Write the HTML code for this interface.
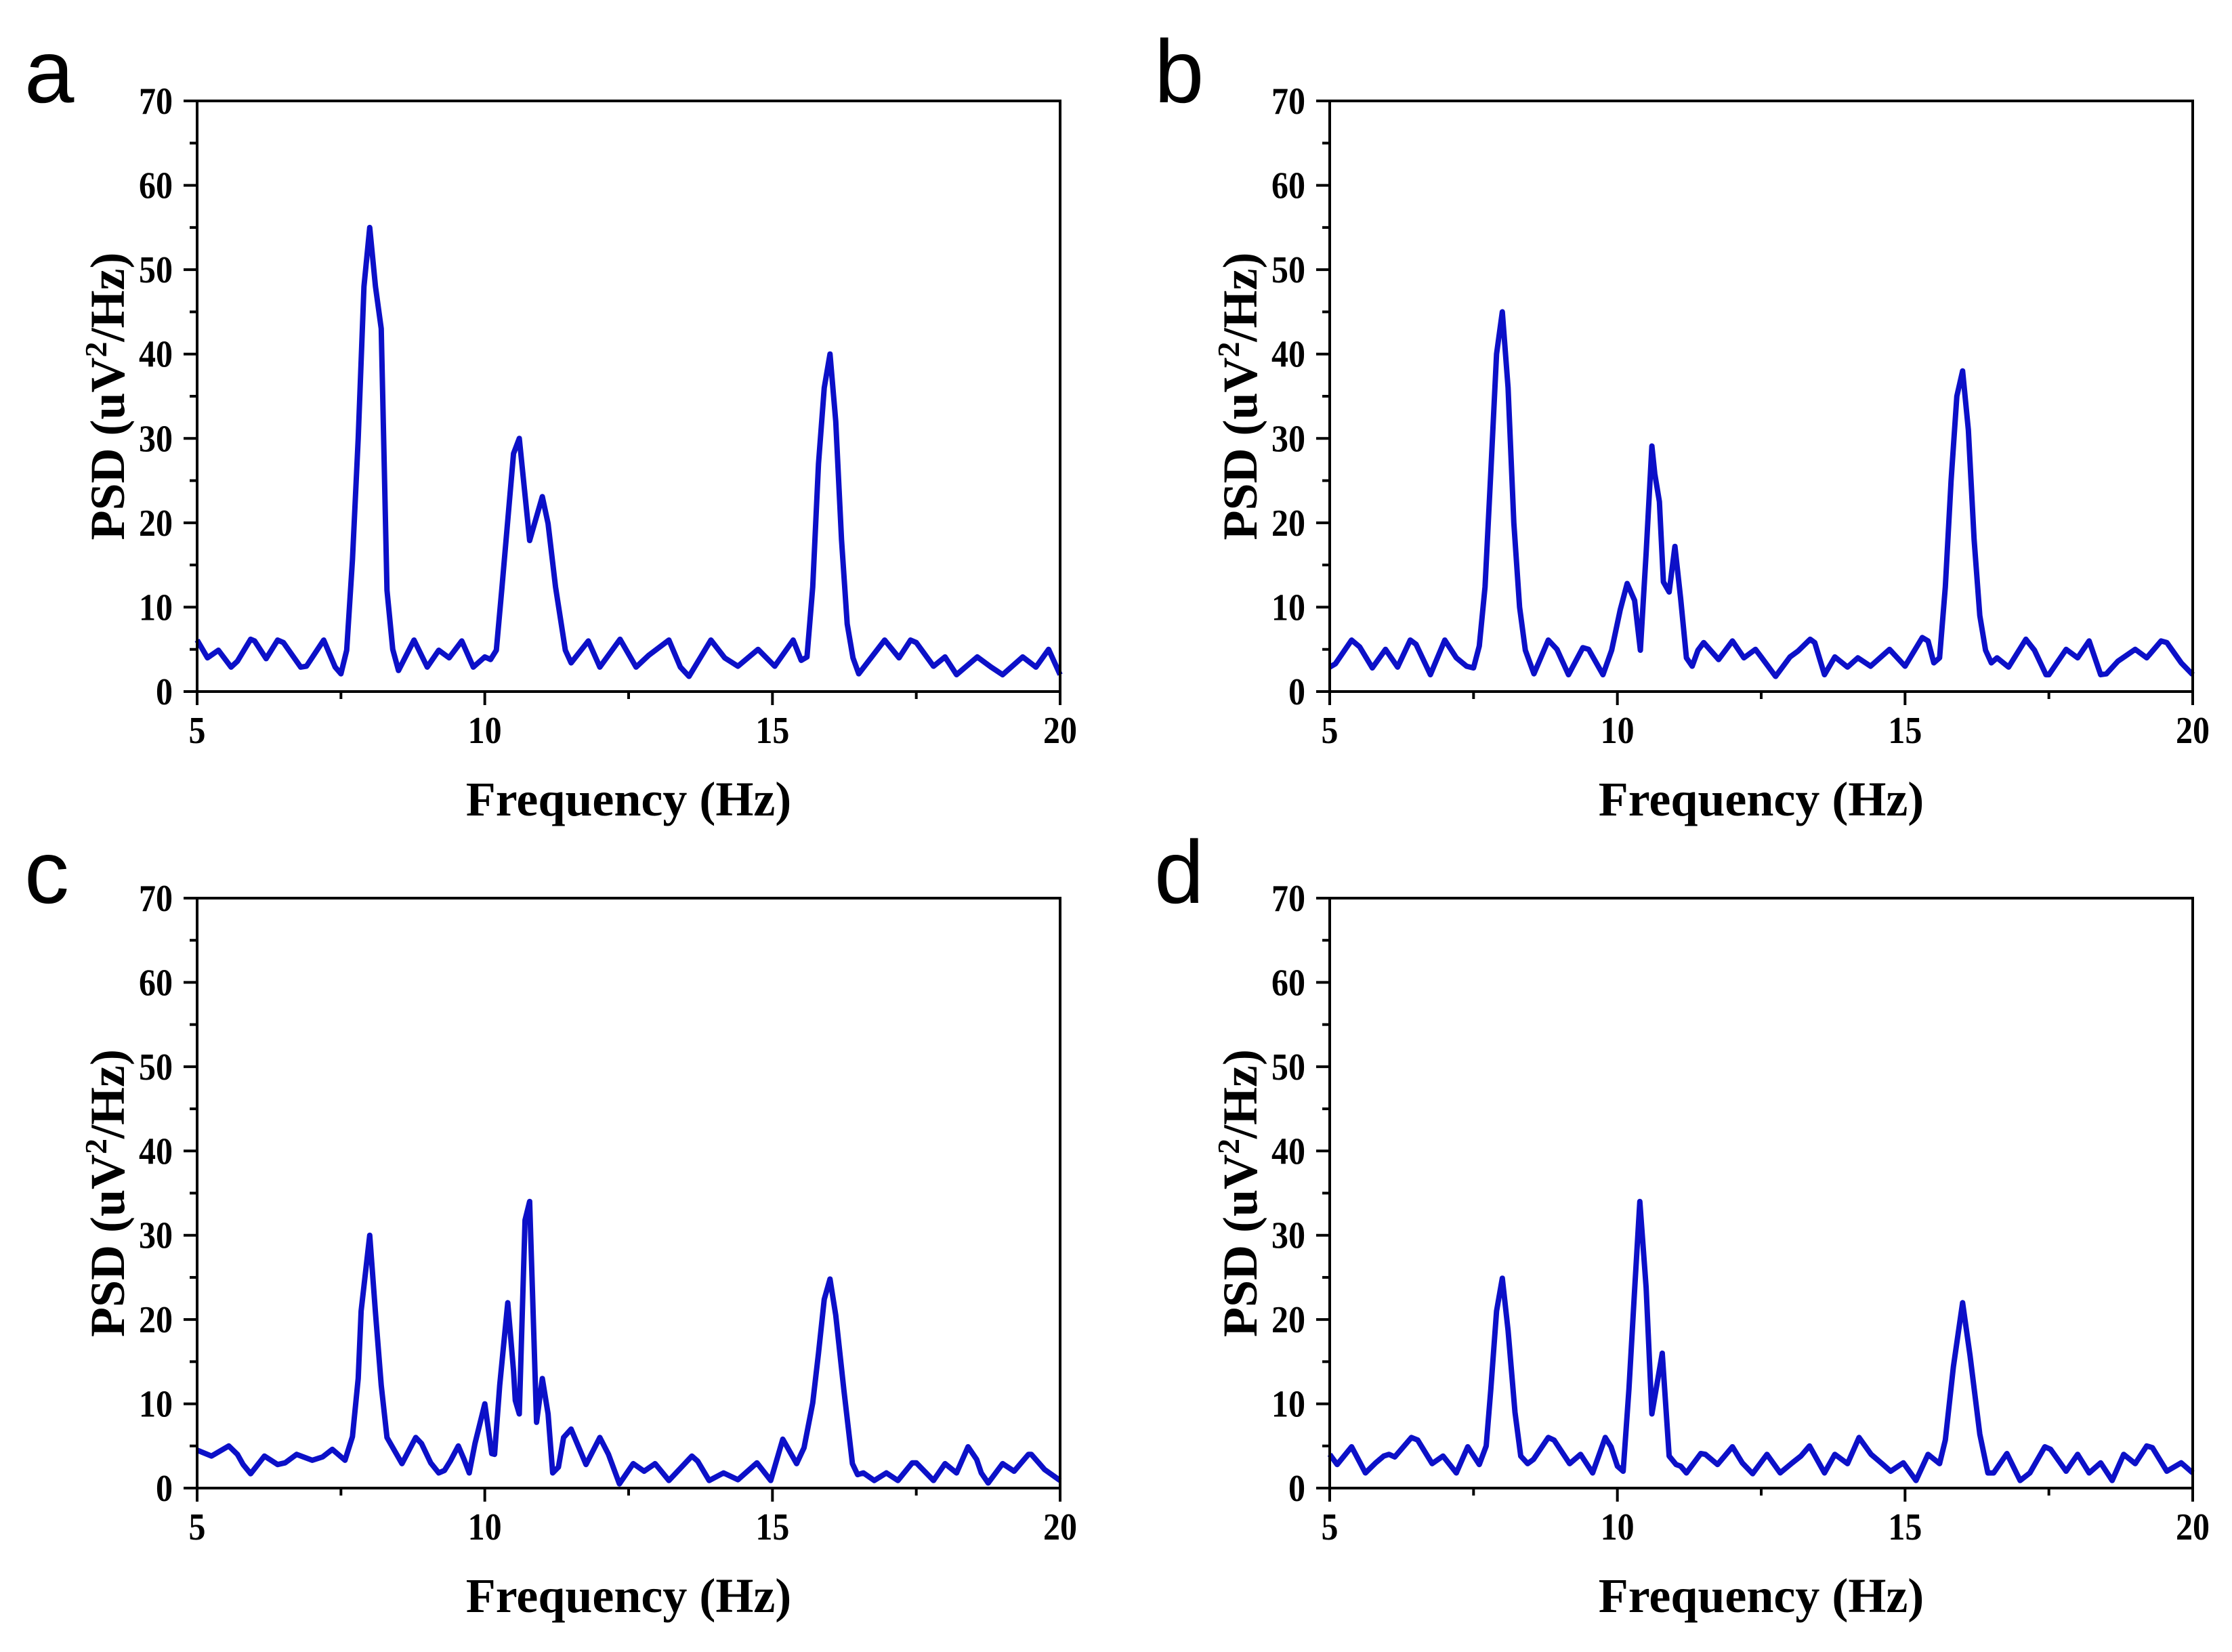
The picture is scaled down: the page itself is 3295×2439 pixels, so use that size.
<!DOCTYPE html>
<html><head><meta charset="utf-8"><style>
html,body{margin:0;padding:0;background:#fff}
svg{display:block}
text{font-family:"Liberation Serif",serif;font-weight:bold;fill:#000}
.lbl{font-family:"Liberation Sans",sans-serif;font-weight:normal}
</style></head><body>
<svg id="fig" width="3295" height="2439" viewBox="0 0 3295 2439" xmlns="http://www.w3.org/2000/svg"></svg>
<script>
const yTicks = [0,10,20,30,40,50,60,70];
const xTicks = [5,10,15,20];
const freqA = [5.0,5.18,5.37,5.59,5.7,5.93,6.0,6.2,6.4,6.5,6.8,6.9,7.2,7.4,7.5,7.6,7.7,7.8,7.9,8.0,8.1,8.2,8.3,8.4,8.5,8.77,9.0,9.2,9.38,9.6,9.8,10.0,10.1,10.2,10.3,10.5,10.6,10.78,11.0,11.1,11.23,11.4,11.5,11.8,12.0,12.35,12.63,12.85,13.2,13.4,13.55,13.93,14.17,14.4,14.75,15.04,15.36,15.5,15.6,15.7,15.8,15.9,16.0,16.1,16.2,16.3,16.4,16.5,16.95,17.2,17.4,17.5,17.8,18.0,18.2,18.56,18.8,19.0,19.35,19.58,19.8,20.0];
const psdA = [6.1,4.0,4.9,2.9,3.6,6.2,6.0,3.9,6.1,5.8,2.9,3.0,6.1,2.9,2.1,4.9,15.6,30,48,55,48,43,12,5,2.5,6.1,2.9,4.9,4.0,6.0,2.9,4.1,3.8,4.9,12.4,28.2,30,17.9,23.1,19.9,12.4,4.9,3.4,6.0,2.9,6.2,2.9,4.3,6.1,2.9,1.8,6.1,4.0,3.0,5.0,3.0,6.1,3.7,4.1,12.4,27,36,40,32,18,8,4.0,2.1,6.1,4.0,6.1,5.8,3.0,4.1,2.0,4.1,2.9,2.0,4.1,2.9,5.0,2.0];
const freqB = [5.0,5.1,5.38,5.52,5.74,5.97,6.18,6.4,6.5,6.75,7.0,7.2,7.38,7.5,7.6,7.7,7.8,7.9,8.0,8.1,8.2,8.3,8.4,8.55,8.8,8.95,9.15,9.4,9.5,9.75,9.9,10.05,10.17,10.3,10.4,10.5,10.6,10.65,10.73,10.8,10.9,11.0,11.1,11.2,11.3,11.4,11.5,11.76,12.0,12.2,12.4,12.5,12.75,13.0,13.14,13.35,13.43,13.6,13.78,14.0,14.18,14.4,14.73,15.0,15.3,15.4,15.5,15.6,15.7,15.8,15.9,16.0,16.1,16.2,16.3,16.4,16.5,16.6,16.8,17.1,17.25,17.45,17.5,17.8,18.0,18.2,18.4,18.5,18.7,19.0,19.2,19.45,19.55,19.8,20.0];
const psdB = [2.9,3.3,6.1,5.3,2.8,5.0,2.9,6.1,5.6,2.0,6.1,4.0,3.0,2.8,5.4,12.4,26,40,45,36,20,10,4.9,2.1,6.1,5.0,2.0,5.2,5.0,2.0,4.9,9.7,12.8,10.8,4.9,16.4,29.1,25.8,22.5,13,11.8,17.2,11,4.0,3.0,4.9,5.8,3.8,6.0,4.0,5.0,4.1,1.8,4.1,4.8,6.2,5.8,2.0,4.1,2.9,4.0,3.0,5.0,3.0,6.4,6.0,3.4,4.0,12.4,25,35,38,31,18,9,4.9,3.4,4.0,2.9,6.2,4.9,2.0,2.0,5.0,4.0,6.0,2.0,2.1,3.6,5.0,4.0,6.0,5.8,3.4,2.0];
const freqC = [5.0,5.25,5.55,5.7,5.8,5.93,6.17,6.4,6.53,6.73,7.0,7.18,7.35,7.57,7.7,7.8,7.85,8.0,8.1,8.2,8.3,8.56,8.8,8.9,9.06,9.2,9.3,9.4,9.54,9.64,9.73,9.83,10.0,10.12,10.17,10.26,10.4,10.5,10.53,10.6,10.7,10.78,10.9,11.0,11.1,11.18,11.28,11.37,11.5,11.76,12.0,12.15,12.34,12.58,12.77,12.96,13.2,13.6,13.7,13.9,14.15,14.4,14.73,14.97,15.18,15.42,15.55,15.7,15.8,15.9,16.0,16.1,16.24,16.39,16.48,16.58,16.77,16.98,17.18,17.43,17.5,17.8,18.0,18.2,18.4,18.55,18.63,18.75,19.0,19.2,19.45,19.5,19.73,20.0];
const psdC = [4.5,3.8,5.0,4.0,2.8,1.7,3.8,2.8,3.0,4.0,3.3,3.7,4.6,3.3,6.1,13,21,30,20.8,12.2,6.0,2.9,6.0,5.3,3.0,1.8,2.1,3.2,5.0,3.4,1.8,5.3,10,4.1,4.0,12.2,22,13.9,10.4,8.8,31.8,34,7.8,13,8.8,1.8,2.5,6.0,7.0,2.8,6.0,4.0,0.5,2.9,2.0,2.9,0.9,3.8,3.2,0.9,1.8,1.0,3.0,0.9,5.8,2.9,4.8,10.1,16,22.4,24.8,20.5,11.7,2.9,1.6,1.8,0.9,1.8,0.9,3.0,3.0,0.9,2.9,1.8,4.9,3.4,1.8,0.6,2.9,2.0,4.0,4.0,2.2,0.9];
const freqD = [5.0,5.13,5.38,5.62,5.8,5.94,6.03,6.13,6.42,6.53,6.78,6.97,7.2,7.4,7.6,7.72,7.8,7.9,8.0,8.1,8.22,8.32,8.44,8.54,8.8,8.9,9.17,9.36,9.57,9.79,9.89,10.0,10.1,10.2,10.3,10.39,10.5,10.6,10.78,10.9,11.02,11.1,11.2,11.45,11.53,11.74,12.0,12.17,12.35,12.6,12.83,13.04,13.19,13.34,13.6,13.78,14.0,14.2,14.41,14.6,14.75,14.97,15.19,15.4,15.6,15.7,15.84,16.0,16.13,16.3,16.44,16.54,16.77,17.0,17.17,17.43,17.53,17.8,18.0,18.2,18.4,18.6,18.8,19.0,19.2,19.3,19.55,19.8,20.0];
const psdD = [4.0,2.8,4.9,1.8,3.0,3.8,4.0,3.7,6.0,5.7,2.9,3.8,1.8,4.9,2.8,5.0,11.7,21,24.9,18.7,9.0,3.8,2.9,3.4,6.0,5.7,2.9,4.0,1.8,6.0,4.9,2.6,2.0,11.7,23.5,34,23.8,8.8,16,3.8,2.8,2.6,1.8,4.1,4.0,2.8,4.9,3.0,1.7,4.0,1.8,3.0,3.8,5.0,1.8,4.0,2.9,6.0,4.0,2.9,2.0,3.0,0.9,4.0,2.9,5.7,14.4,22,15.7,6.4,1.8,1.8,4.1,0.9,1.8,4.9,4.6,2.0,4.0,1.8,3.0,0.9,4.0,2.9,5.0,4.8,2.0,3.0,1.8];

const NS = "http://www.w3.org/2000/svg";
const svg = document.getElementById('fig');
function mk(tag, attrs, parent){
  const e = document.createElementNS(NS, tag);
  for (const k in attrs) e.setAttribute(k, attrs[k]);
  (parent||svg).appendChild(e);
  return e;
}
const panels = [
  {id:'a', L:291, R:1565, T:149, B:1021, lx:36, ly:151, f:freqA, v:psdA},
  {id:'b', L:1963, R:3237, T:149, B:1021, lx:1704, ly:151, f:freqB, v:psdB},
  {id:'c', L:291, R:1565, T:1326, B:2197, lx:36, ly:1333, f:freqC, v:psdC},
  {id:'d', L:1963, R:3237, T:1326, B:2197, lx:1704, ly:1333, f:freqD, v:psdD}
];
panels.forEach(p=>{
  const g = mk('g', {});
  
  
  const xs = f => p.L + (f - 5) / 15 * (p.R - p.L);
  const ys = v => p.B - v / 70 * (p.B - p.T);
  const lbl = mk('text', {x:p.lx, y:p.ly, 'font-size':132, class:'lbl'}, g);
  lbl.textContent = p.id;
  
  
  for (let v = 0; v <= 70; v += 5) {
    const major = v % 10 === 0;
    const t = mk('line', {x1:p.L - (major?20:11), x2:p.L, y1:ys(v), y2:ys(v), stroke:'#000', 'stroke-width':4}, g);
    
    
  }
  yTicks.forEach(v=>{
    const ty = ys(v) + 19;
    const t = mk('text', {x:p.L - 36, y:ty, 'font-size':50, 'text-anchor':'end', transform:'translate(0 ' + ty + ') scale(1 1.12) translate(0 ' + (-ty) + ')'}, g);
    t.textContent = v;
    
    
  });
  for (let f = 5; f <= 20; f += 2.5) {
    const major = f % 5 === 0;
    const t = mk('line', {x1:xs(f), x2:xs(f), y1:p.B, y2:p.B + (major?20:11), stroke:'#000', 'stroke-width':4}, g);
    
    
  }
  xTicks.forEach(f=>{
    const ty = p.B + 76;
    const t = mk('text', {x:xs(f), y:ty, 'font-size':50, 'text-anchor':'middle', transform:'translate(0 ' + ty + ') scale(1 1.12) translate(0 ' + (-ty) + ')'}, g);
    t.textContent = f;
    
    
  });
  const xt = mk('text', {x:(p.L + p.R)/2, y:p.B + 183, 'font-size':72, 'text-anchor':'middle'}, g);
  xt.textContent = 'Frequency (Hz)';
  
  
  const cy = (p.T + p.B)/2, cx = p.L - 108;
  const yt = mk('text', {x:cx, y:cy, 'font-size':72, 'text-anchor':'middle', transform:'rotate(-90 ' + cx + ' ' + cy + ')'}, g);
  yt.innerHTML = 'PSD (uV<tspan font-size="46" dy="-26">2</tspan><tspan dy="26">/Hz)</tspan>';
  
  
  const line = mk('polyline', {points:p.f.map((f,i)=>xs(f).toFixed(1)+','+ys(p.v[i]).toFixed(1)).join(' '), fill:'none', stroke:'#0c10c8', 'stroke-width':8, 'stroke-linejoin':'round'}, g);
  
  
  const fr = mk('rect', {x:p.L, y:p.T, width:p.R - p.L, height:p.B - p.T, fill:'none', stroke:'#000', 'stroke-width':4}, g);
  
  
});
</script>
</body></html>
